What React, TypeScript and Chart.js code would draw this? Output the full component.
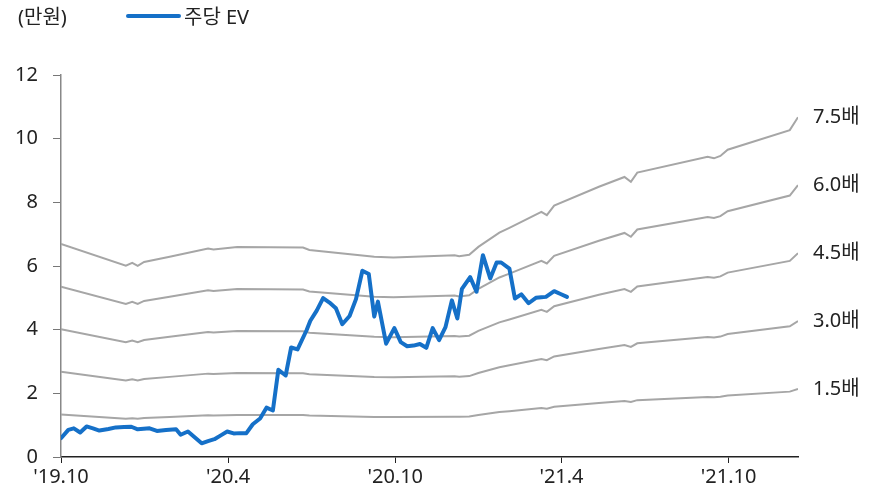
import React, { useEffect, useRef } from "react";
import { Chart, registerables } from "chart.js";

Chart.register(...registerables);

const FONT = "'Noto Sans', 'Noto Sans CJK KR', sans-serif";
const FONT_SIZE = 20;

const unitLabel = "(만원)";
const evLabel = "주당 EV";

const tickDates = ["2019-10-01", "2020-04-01", "2020-10-01", "2021-04-01", "2021-10-01"];
const tickLabels = ["'19.10", "'20.4", "'20.10", "'21.4", "'21.10"];

const evDates = [
  "2019-10-01", "2019-10-09", "2019-10-15", "2019-10-22", "2019-10-29", "2019-11-05", "2019-11-12",
  "2019-11-22", "2019-11-30", "2019-12-09", "2019-12-17", "2019-12-24", "2020-01-06", "2020-01-14",
  "2020-01-24", "2020-02-04", "2020-02-09", "2020-02-17", "2020-03-03", "2020-03-10", "2020-03-17",
  "2020-03-24", "2020-03-31", "2020-04-07", "2020-04-14", "2020-04-21", "2020-04-28", "2020-05-06",
  "2020-05-13", "2020-05-20", "2020-05-26", "2020-06-03", "2020-06-09", "2020-06-16", "2020-06-26",
  "2020-06-30", "2020-07-07", "2020-07-14", "2020-07-21", "2020-07-28", "2020-08-04", "2020-08-12",
  "2020-08-19", "2020-08-26", "2020-09-02", "2020-09-08", "2020-09-12", "2020-09-21", "2020-09-30",
  "2020-10-07", "2020-10-14", "2020-10-21", "2020-10-28", "2020-11-04", "2020-11-11", "2020-11-18",
  "2020-11-25", "2020-12-02", "2020-12-08", "2020-12-13", "2020-12-22", "2020-12-29", "2021-01-05",
  "2021-01-13", "2021-01-20", "2021-01-25", "2021-02-03", "2021-02-09", "2021-02-16", "2021-02-24",
  "2021-03-04", "2021-03-10", "2021-03-15", "2021-03-24", "2021-03-31", "2021-04-07",
];
const evValues = [
  0.59, 0.85, 0.9, 0.77, 0.96, 0.9, 0.83,
  0.88, 0.93, 0.94, 0.95, 0.87, 0.9, 0.82,
  0.85, 0.87, 0.7, 0.8, 0.43, 0.5, 0.56,
  0.68, 0.8, 0.74, 0.75, 0.75, 1.03, 1.21,
  1.55, 1.46, 2.74, 2.56, 3.44, 3.38, 3.99,
  4.28, 4.6, 4.99, 4.85, 4.67, 4.17, 4.43,
  4.96, 5.85, 5.75, 4.41, 4.88, 3.56, 4.05,
  3.61, 3.48, 3.5, 3.55, 3.43, 4.05, 3.67,
  4.08, 4.92, 4.35, 5.28, 5.65, 5.19, 6.34,
  5.61, 6.11, 6.11, 5.92, 4.98, 5.11, 4.83,
  5.0, 5.02, 5.03, 5.21, 5.12, 5.03,
];

const bandDates = [
  "2019-10-01", "2019-12-11", "2019-12-18", "2019-12-24", "2019-12-31", "2020-01-28", "2020-03-10",
  "2020-03-16", "2020-04-11", "2020-06-22", "2020-06-29", "2020-09-08", "2020-09-29", "2020-12-05",
  "2020-12-10", "2020-12-21", "2020-12-31", "2021-01-23", "2021-02-03", "2021-03-10", "2021-03-16",
  "2021-03-24", "2021-05-12", "2021-06-09", "2021-06-16", "2021-06-23", "2021-09-08", "2021-09-15",
  "2021-09-22", "2021-09-30", "2021-12-07", "2021-12-16",
];
const bandBase = [
  0.892, 0.801, 0.813, 0.801, 0.817, 0.839, 0.873,
  0.869, 0.88, 0.877, 0.867, 0.839, 0.836, 0.845,
  0.841, 0.847, 0.88, 0.94, 0.96, 1.027, 1.013,
  1.053, 1.132, 1.173, 1.153, 1.191, 1.257, 1.251,
  1.261, 1.287, 1.369, 1.423,
];
const bandMultiples = [7.5, 6.0, 4.5, 3.0, 1.5];
const bandLabels = ["7.5배", "6.0배", "4.5배", "3.0배", "1.5배"];

const yTicks = [0, 2, 4, 6, 8, 10, 12];

const ORIGIN = Date.UTC(2019, 9, 1);
const toDay = (s: string) => {
  const [y, m, d] = s.split("-").map(Number);
  return (Date.UTC(y, m - 1, d) - ORIGIN) / 86400000;
};

const EV_COLOR = "#1570c8";
const BAND_COLOR = "#a6a6a6";

export default function App() {
  const ref = useRef<HTMLCanvasElement | null>(null);

  useEffect(() => {
    const canvas = ref.current;
    if (!canvas) return;

    const bandSets = bandMultiples.map((mult, k) => ({
      label: bandLabels[k],
      data: bandDates.map((d, i) => ({ x: toDay(d), y: bandBase[i] * mult })),
      borderColor: BAND_COLOR,
      borderWidth: 2,
      pointRadius: 0,
      tension: 0,
      order: 2,
    }));

    const evSet = {
      label: evLabel,
      data: evDates.map((d, i) => ({ x: toDay(d), y: evValues[i] })),
      borderColor: EV_COLOR,
      borderWidth: 4,
      pointRadius: 0,
      tension: 0,
      borderJoinStyle: "round" as const,
      borderCapStyle: "round" as const,
      order: 1,
    };

    const tickDays = tickDates.map(toDay);
    const xMax = toDay(bandDates[bandDates.length - 1]);

    const overlay = {
      id: "overlay",
      afterDraw(chart: any) {
        const ctx = chart.ctx;
        const yScale = chart.scales.y;
        ctx.save();
        ctx.font = `${FONT_SIZE}px ${FONT}`;
        ctx.fillStyle = "#222";
        ctx.textBaseline = "middle";
        ctx.textAlign = "left";
        ctx.fillText(unitLabel, 18, 18);
        ctx.strokeStyle = EV_COLOR;
        ctx.lineWidth = 4;
        ctx.lineCap = "round";
        ctx.beginPath();
        ctx.moveTo(128, 16);
        ctx.lineTo(179, 16);
        ctx.stroke();
        ctx.fillText(evSet.label, 184, 18);
        bandSets.forEach((ds) => {
          const last = ds.data[ds.data.length - 1];
          const y = yScale.getPixelForValue(last.y);
          ctx.fillText(ds.label, chart.chartArea.right + 15, y);
        });
        ctx.restore();
      },
    };

    const chart = new Chart(canvas, {
      type: "line",
      data: { datasets: [evSet as any, ...bandSets] },
      options: {
        animation: false,
        responsive: false,
        layout: { padding: { left: 0, top: 75, right: 86, bottom: 0 } },
        plugins: { legend: { display: false }, tooltip: { enabled: false } },
        scales: {
          x: {
            type: "linear",
            min: 0,
            max: xMax,
            afterBuildTicks: (scale: any) => {
              scale.ticks = tickDays.map((v) => ({ value: v }));
            },
            afterFit: (scale: any) => {
              scale.height = 36;
            },
            ticks: {
              autoSkip: false,
              maxRotation: 0,
              padding: 2,
              color: "#222",
              font: { family: FONT, size: FONT_SIZE },
              callback: (v: any) => {
                const idx = tickDays.indexOf(Number(v));
                return idx >= 0 ? tickLabels[idx] : "";
              },
            },
            grid: { drawOnChartArea: false, drawTicks: true, tickLength: 6, color: "#222" },
            border: { color: "#222", width: 1.5 },
          },
          y: {
            min: 0,
            max: 12,
            afterBuildTicks: (scale: any) => {
              scale.ticks = yTicks.map((v) => ({ value: v }));
            },
            afterFit: (scale: any) => {
              scale.width = 61;
            },
            ticks: {
              padding: 15,
              color: "#222",
              font: { family: FONT, size: FONT_SIZE },
            },
            grid: { drawOnChartArea: false, drawTicks: true, tickLength: 8, color: "#777" },
            border: { color: "#888", width: 1.5 },
          },
        },
      },
      plugins: [overlay],
    });

    return () => chart.destroy();
  }, []);

  return (
    <div style={{ position: "fixed", left: 0, top: 0, width: 884, height: 493, background: "#fff" }}>
      <canvas ref={ref} width={884} height={493} style={{ width: 884, height: 493, display: "block" }} />
    </div>
  );
}
